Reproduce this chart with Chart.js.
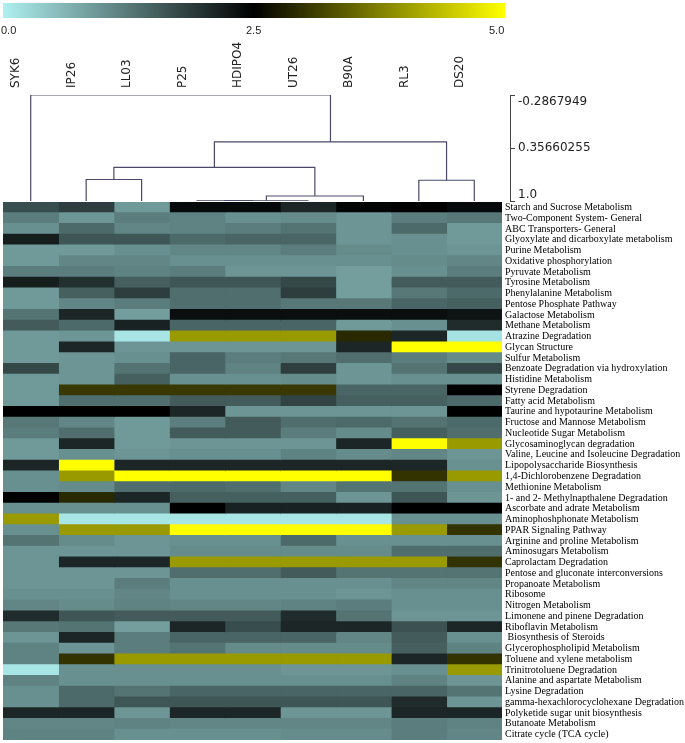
<!DOCTYPE html>
<html>
<head>
<meta charset="utf-8">
<script src="https://cdn.jsdelivr.net/npm/chart.js@4.4.0/dist/chart.umd.min.js"></script>
<style>
  body { margin: 0; background: #fff; }
  #wrap { position: relative; width: 685px; height: 743px; overflow: hidden; }
  #scaleBar { position: absolute; left: 3px; top: 3px; width: 502px; height: 15px; }
  .scaleLbl { position: absolute; top: 24px; font: 11px 'Liberation Sans', sans-serif; color: #222; }
  #dendro { position: absolute; left: 0; top: 36px; }
  #heat { position: absolute; left: 0; top: 202px; }
</style>
</head>
<body>
<div id="wrap">
  <div id="scaleBar"></div>
  <canvas id="heat" width="685" height="538"></canvas>
  <canvas id="dendro" width="685" height="176"></canvas>
</div>
<script>
// 샘플(열) 이름
const samples = ['SYK6', 'IP26', 'LL03', 'P25', 'HDIPO4', 'UT26', 'B90A', 'RL3', 'DS20'];

// 대사경로(행) 이름
const pathways = [
  'Starch and Sucrose Metabolism', 'Two-Component System- General', 'ABC Transporters- General',
  'Glyoxylate and dicarboxylate metabolism', 'Purine Metabolism', 'Oxidative phosphorylation',
  'Pyruvate Metabolism', 'Tyrosine Metabolism', 'Phenylalanine Metabolism', 'Pentose Phosphate Pathway',
  'Galactose Metabolism', 'Methane Metabolism', 'Atrazine Degradation', 'Glycan Structure',
  'Sulfur Metabolism', 'Benzoate Degradation via hydroxylation', 'Histidine Metabolism',
  'Styrene Degradation', 'Fatty acid Metabolism', 'Taurine and hypotaurine Metabolism',
  'Fructose and Mannose Metabolism', 'Nucleotide Sugar Metabolism', 'Glycosaminoglycan degradation',
  'Valine, Leucine and Isoleucine Degradation', 'Lipopolysaccharide Biosynthesis',
  '1,4-Dichlorobenzene Degradation', 'Methionine Metabolism', '1- and 2- Methylnapthalene Degradation',
  'Ascorbate and adrate Metabolism', 'Aminophoshphonate Metabolism', 'PPAR Signaling Pathway',
  'Arginine and proline Metabolism', 'Aminosugars Metabolism', 'Caprolactam Degradation',
  'Pentose and gluconate interconversions', 'Propanoate Metabolism', 'Ribosome', 'Nitrogen Metabolism',
  'Limonene and pinene Degradation', 'Riboflavin Metabolism', ' Biosynthesis of Steroids',
  'Glycerophospholipid Metabolism', 'Toluene and xylene metabolism', 'Trinitrotoluene Degradation',
  'Alanine and aspartate Metabolism', 'Lysine Degradation', 'gamma-hexachlorocyclohexane Degradation',
  'Polyketide sugar unit biosynthesis', 'Butanoate Metabolism', 'Citrate cycle (TCA cycle)'
];

// 열별 값 (0 ~ 5)
const syk6 = [1.7,1.2,1.0,2.2,0.9,0.9,1.2,2.2,0.9,0.9, 1.3,1.55,0.9,0.9,0.9,1.75,0.9,0.9,0.9,2.5,
              1.25,1.2,0.9,0.9,2.1,1.0,1.0,2.5,1.0,4.0, 1.0,1.3,0.95,0.95,0.95,0.95,1.0,1.1,2.05,1.25,
              0.95,1.15,1.15,0.1,1.15,1.0,1.0,2.1,1.1,1.15];
const ip26 = [1.85,0.95,1.4,1.6,0.9,1.1,1.2,2.0,1.5,1.1, 2.1,1.4,0.95,2.1,0.95,0.95,0.95,3.05,1.35,2.5,
              1.1,1.35,2.1,1.0,5.0,4.0,1.05,2.9,1.0,0.1, 4.0,1.05,0.95,2.1,0.95,0.95,1.0,1.05,1.6,1.3,
              2.1,0.95,3.0,1.0,1.0,1.4,1.4,2.1,1.1,1.15];
const ll03 = [0.9,1.2,1.1,1.6,1.0,1.1,1.15,1.5,1.85,1.2, 0.85,2.15,0.1,0.95,1.0,1.3,1.5,3.05,1.35,2.5,
              0.9,0.9,0.9,0.95,2.1,5.0,1.35,2.1,1.0,0.1, 4.0,0.95,0.95,2.1,0.95,1.2,1.1,1.15,1.55,0.85,
              1.2,1.2,4.0,1.0,1.0,1.3,1.6,0.95,1.15,1.0];
const p25 = [2.4,1.15,1.15,1.4,1.1,1.0,1.2,1.6,1.35,1.35, 2.35,1.45,4.0,0.95,1.45,1.45,1.0,3.05,1.55,2.1,
             1.2,1.55,0.95,1.0,2.1,5.0,1.4,1.5,2.5,0.1, 5.0,1.0,1.05,4.0,1.35,1.0,1.0,1.1,1.55,2.1,
             1.45,1.3,4.0,1.0,1.0,1.45,1.6,2.1,1.1,1.0];
const hdipo4 = [2.4,1.0,1.2,1.45,1.1,1.0,0.95,1.6,1.35,1.35, 2.35,1.45,4.0,0.95,1.2,1.15,1.0,3.05,1.55,0.95,
                1.55,1.55,0.95,1.0,2.1,5.0,1.35,1.5,2.15,0.1, 5.0,1.0,1.05,4.0,1.35,1.0,1.0,1.1,1.55,1.7,
                1.45,1.05,4.0,1.0,1.0,1.45,1.6,2.1,1.1,1.0];
const ut26 = [2.1,1.05,1.3,1.45,1.2,1.0,0.95,1.75,1.85,1.25, 2.35,1.45,4.0,0.95,1.25,1.85,1.05,3.05,1.8,0.95,
              1.35,1.2,0.95,1.15,2.1,5.0,1.1,1.5,2.15,0.1, 5.0,1.4,1.05,4.0,1.55,1.0,1.0,1.15,2.05,2.1,
              1.45,1.05,4.0,0.95,1.0,1.45,1.6,0.95,1.1,1.05];
const b90a = [2.45,0.95,0.95,0.95,1.05,1.0,0.85,0.85,0.85,1.25, 2.35,0.9,2.9,2.1,1.35,0.95,0.95,1.45,1.5,0.95,
              1.4,1.05,2.1,1.05,2.1,5.0,1.3,0.95,2.15,0.1, 5.0,1.0,1.05,4.0,1.3,1.0,0.95,1.2,1.3,2.1,
              1.1,1.05,4.0,0.95,1.0,1.45,1.6,0.95,1.1,1.05];
const rl3 = [2.5,1.2,1.4,1.0,1.0,1.05,1.0,1.55,1.25,1.45, 2.35,1.0,2.1,5.0,1.2,1.3,1.0,1.45,1.5,0.95,
             1.3,1.5,5.0,1.1,2.1,3.0,1.3,1.6,2.5,1.0, 4.0,1.0,1.35,4.0,1.3,1.1,1.0,1.0,0.95,1.65,
             1.55,1.5,2.1,1.0,1.15,1.45,2.05,2.1,1.2,1.2];
const ds20 = [2.4,1.25,0.9,0.9,0.95,1.1,1.2,1.55,1.4,1.5, 2.3,2.05,0.15,5.0,1.05,1.75,1.0,2.5,1.4,2.5,
              1.4,1.35,4.0,0.95,1.0,4.0,1.0,0.95,2.5,1.0, 3.0,1.0,1.35,3.0,1.3,1.1,1.0,1.0,0.95,2.1,
              1.0,1.15,3.0,4.0,0.95,1.3,0.95,2.1,1.15,1.1];
const columns = [syk6, ip26, ll03, p25, hdipo4, ut26, b90a, rl3, ds20];

// 색상 막대 눈금
const scaleTicks = [0, 2.5, 5];
const scaleTickLabels = ['0.0', '2.5', '5.0'];

// 계통수 (노드 0~8 = 샘플, 9 이후 = 병합 순서)
const mergeLeft = [3, 9, 10, 1, 7, 12, 14, 0];
const mergeRight = [4, 5, 6, 2, 8, 11, 13, 15];
const mergeHeight = [0.999, 0.997, 0.939, 0.739, 0.748, 0.593, 0.282, -0.2867949];
const dendroTicks = [-0.2867949, 0.35660255, 1.0];
const dendroTickLabels = ['-0.2867949', '0.35660255', '1.0'];

// 0 = 하늘색, 2.5 = 검정, 5 = 노랑
const lowColor = [175, 240, 240];
const midColor = [0, 0, 0];
const highColor = [255, 255, 0];

function heatColor(v) {
  let a, b, t;
  if (v <= 2.5) { a = lowColor; b = midColor; t = v / 2.5; }
  else { a = midColor; b = highColor; t = (v - 2.5) / 2.5; }
  t = Math.max(0, Math.min(1, t));
  const c = a.map((x, i) => Math.round(x + (b[i] - x) * t));
  return `rgb(${c[0]},${c[1]},${c[2]})`;
}

// 축 여백 제거 (라벨 절반 높이만큼 줄어드는 것 방지)
function noPad(ax) {
  ax.paddingTop = 0; ax.paddingBottom = 0;
  ax.paddingLeft = 0; ax.paddingRight = 0;
}

// 색상 막대
const bar = document.getElementById('scaleBar');
const stops = [];
for (let v = 0; v <= 5.001; v += 0.25) stops.push(heatColor(v) + ' ' + (v / 5 * 100).toFixed(1) + '%');
bar.style.background = 'linear-gradient(to right, ' + stops.join(', ') + ')';
scaleTicks.forEach((v, i) => {
  const s = document.createElement('span');
  s.className = 'scaleLbl';
  s.textContent = scaleTickLabels[i];
  const x = 3 + v / 5 * 502;
  s.style.left = (i === 0 ? 1 : i === scaleTicks.length - 1 ? x - 16 : x - 8) + 'px';
  document.getElementById('wrap').appendChild(s);
});

// 계통수 좌표 계산
const nodeX = samples.map((_, i) => i + 0.5);
const nodeH = samples.map(() => 1.0);
const dendroSets = [];
mergeLeft.forEach((l, k) => {
  const r = mergeRight[k];
  const h = mergeHeight[k];
  dendroSets.push({
    data: [{x: nodeX[l], y: nodeH[l]}, {x: nodeX[l], y: h}, {x: nodeX[r], y: h}, {x: nodeX[r], y: nodeH[r]}],
    showLine: true, borderColor: '#4a4a68', borderWidth: 1.2, pointRadius: 0, tension: 0, fill: false
  });
  nodeX.push((nodeX[l] + nodeX[r]) / 2);
  nodeH.push(h);
});

const dendroMax = 9 * (510 - 3) / (502 - 3);

new Chart(document.getElementById('dendro'), {
  type: 'scatter',
  data: { datasets: dendroSets },
  options: {
    responsive: false,
    animation: false,
    layout: { padding: { left: 3, right: 0, top: 0, bottom: 11 } },
    plugins: { legend: { display: false }, tooltip: { enabled: false } },
    scales: {
      x: {
        type: 'linear', position: 'top', min: 0, max: dendroMax,
        grid: { display: false, drawTicks: false }, border: { display: false },
        afterBuildTicks: ax => { ax.ticks = samples.map((s, i) => ({ value: i + 0.5 })); },
        afterFit: ax => { ax.height = 59; noPad(ax); },
        ticks: {
          autoSkip: false, minRotation: 90, maxRotation: 90, padding: 7,
          color: '#222', font: { family: 'DejaVu Sans', size: 12 },
          callback: (v, i) => samples[i]
        }
      },
      y: {
        type: 'linear', position: 'right', reverse: true, min: -0.2867949, max: 1.0,
        grid: { drawOnChartArea: false, tickLength: 5, color: '#444' },
        border: { color: '#444' },
        afterBuildTicks: ax => { ax.ticks = dendroTicks.map(v => ({ value: v })); },
        afterFit: ax => { ax.width = 175; noPad(ax); },
        ticks: {
          padding: 3, color: '#222', font: { family: 'DejaVu Sans', size: 12, lineHeight: 1.1 },
          // 양 끝 라벨은 괄호 안쪽으로 반 줄 이동
          callback: (v, i) => i === 0 ? ['', dendroTickLabels[i]]
            : i === dendroTickLabels.length - 1 ? [dendroTickLabels[i], ''] : dendroTickLabels[i]
        }
      }
    }
  }
});

// 히트맵
new Chart(document.getElementById('heat'), {
  type: 'bar',
  data: {
    labels: pathways,
    datasets: columns.map((vals, c) => ({
      label: samples[c],
      data: vals.map(() => [c, c + 1]),
      backgroundColor: ctx => heatColor(vals[ctx.dataIndex]),
      borderWidth: 0,
      barPercentage: 1,
      categoryPercentage: 1,
      grouped: false,
      inflateAmount: 0.5
    }))
  },
  options: {
    indexAxis: 'y',
    responsive: false,
    animation: false,
    layout: { padding: { left: 3, right: 0, top: 0, bottom: 0 } },
    plugins: { legend: { display: false }, tooltip: { enabled: false } },
    scales: {
      x: { type: 'linear', min: 0, max: 9, display: false },
      y: {
        position: 'right',
        grid: { display: false, drawTicks: false },
        border: { display: false },
        afterFit: ax => { ax.width = 183; noPad(ax); },
        ticks: { autoSkip: false, padding: 3, color: '#000', font: { family: 'Liberation Serif', size: 10 } }
      }
    }
  }
});
</script>
</body>
</html>
